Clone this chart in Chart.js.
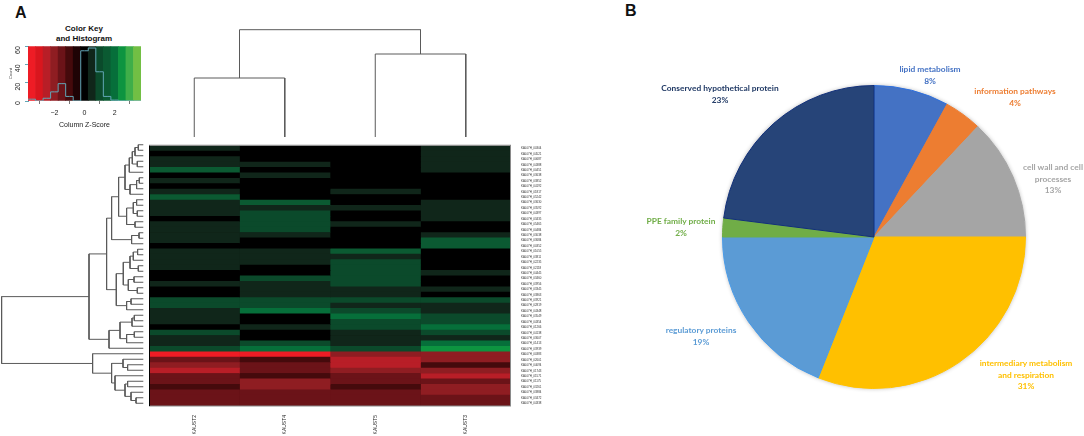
<!DOCTYPE html>
<html lang="en">
<head>
    <meta charset="UTF-8">
    <title>Heatmap and functional categories</title>
    <script src="https://cdn.jsdelivr.net/npm/chart.js"></script>
    <style>
        html, body { margin: 0; padding: 0; background: #fff; overflow: hidden; }
        body { position: relative; width: 1084px; height: 436px; }
        canvas { position: absolute; }
        .panel { position: absolute; font: bold 16px 'Liberation Sans', Arial, sans-serif; color: #111; }
        .key-title { position: absolute; left: 34px; top: 24px; width: 100px; text-align: center;
            font: bold 8px/10px 'Liberation Sans', Arial, sans-serif; color: #111; z-index: 0; }
        .pie-label { position: absolute; transform: translateX(-50%); text-align: center; white-space: nowrap;
            font: bold 8.4px/11.6px Lato, 'Open Sans', sans-serif; }
    </style>
</head>
<body>
    <div class="panel" style="left:15px;top:4px">A</div>
    <div class="panel" style="left:625px;top:2px">B</div>
    <div class="key-title">Color Key<br>and Histogram</div>

    <canvas id="key" width="150" height="94" style="left:0;top:35px"></canvas>
    <canvas id="top-tree" width="362" height="112" style="left:149px;top:25px"></canvas>
    <canvas id="row-tree" width="146" height="264" style="left:0;top:142px"></canvas>
    <canvas id="heat" width="402" height="294" style="left:149px;top:142px"></canvas>
    <canvas id="pie" width="316" height="316" style="left:716px;top:79px"></canvas>

    <script>
        // Colour key: one colour per 0.5 wide z-score bin, -3.5 to 3.5
        const keyBins = [-3.5, -3, -2.5, -2, -1.5, -1, -0.5, 0, 0.5, 1, 1.5, 2, 2.5, 3, 3.5];
        const keyCounts = [2, 0, 3, 10, 19, 5, 0, 55, 58, 32, 5, 1, 0, 0, 0];
        const keyColors = ['#ee1c25', '#d9161e', '#b81e27', '#8f1d22', '#6b1318', '#450a0c', '#1f0305', '#000000',
            '#10261a', '#0b4a2b', '#0b5a32', '#066f3a', '#0d9440', '#3fae49', '#72bf44'];

        // Heatmap z-scores, top row first
        const columns = ['KAUST2', 'KAUST4', 'KAUST5', 'KAUST3'];
        const kaust2 = [.5, 0, .5, .5, 1.5, 0, .5, 0, .5, 1.5, .5, .5, .5, 0, .5, .5, .5, .5, 0, .5, .5, .5, .5, 0,
            0, .5, 0, 0, 1, 1, .5, .5, .5, 0, 1, .5, .5, 1, -3.5, -1.5, -2, -2.5, -1.5, -1.5, -1, -1.5, -1.5, -1.5];
        const kaust4 = [0, 0, 0, .5, 0, .5, 0, 0, 0, 0, 1.5, .5, 1, 1, 1, 1, .5, 0, 0, .5, .5, .5, 0, 0,
            1, .5, .5, .5, 1, 1, 2, 0, 0, .5, 0, 0, 1, 2, -3.5, -1, -1.5, -1.5, -1, -2, -2, -1.5, -1.5, -1.5];
        const kaust5 = [0, 0, 0, 0, 0, 0, 0, 0, .5, 0, 0, .5, 0, 0, .5, 0, 0, 0, 0, 1.5, .5, 1, 1, 1,
            1, 1, .5, .5, 1, .5, 1, 2, 1, 1, .5, .5, .5, 1, -2, -2.5, -2.5, -2, -1.5, -1.5, -1, -1.5, -1.5, -1.5];
        const kaust3 = [.5, .5, .5, .5, .5, 0, 0, 0, 0, 0, .5, .5, .5, .5, 0, 0, .5, 1.5, 1.5, 0, 0, 0, 0, .5,
            0, 0, .5, 0, 1, .5, .5, 1, 1, 2, 1, .5, 2, 2.5, -2, -2, -1, -2, -2.5, -1.5, -2, -2, -1.5, -1.5];
        const rowLabels = ['KAL07H_00304', 'KAL07H_04521', 'KAL07H_00687', 'KAL07H_04388', 'KAL07H_00451', 'KAL07H_03638',
            'KAL07H_03852', 'KAL07H_04192', 'KAL07H_01817', 'KAL07H_05242', 'KAL07H_03630', 'KAL07H_03592',
            'KAL07H_04397', 'KAL07H_03435', 'KAL07H_05465', 'KAL07H_00484', 'KAL07H_03038', 'KAL07H_03684',
            'KAL07H_00352', 'KAL07H_01055', 'KAL07H_03811', 'KAL07H_02235', 'KAL07H_02118', 'KAL07H_04445',
            'KAL07H_03460', 'KAL07H_03956', 'KAL07H_03345', 'KAL07H_03863', 'KAL07H_03921', 'KAL07H_02819',
            'KAL07H_04348', 'KAL07H_03549', 'KAL07H_04354', 'KAL07H_01266', 'KAL07H_04138', 'KAL07H_03607',
            'KAL07H_01413', 'KAL07H_03939', 'KAL07H_00383', 'KAL07H_02601', 'KAL07H_04094', 'KAL07H_01743',
            'KAL07H_01571', 'KAL07H_01175', 'KAL07H_03261', 'KAL07H_03884', 'KAL07H_03472', 'KAL07H_04338'];

        // Dendrograms: [height, left child, right child]; a number child is a row index
        const rowsTop = [24.7,
            [18.3, [14, [11, [8.3, [5, 0, 1], 2], [6, 3, 4]], 5], [13.3, [6.7, [4, 6, 7], 8], 9]],
            [16.7, [10, [6.7, 10, 11], [6, 12, 13]], [8.3, 14, 15]]];
        const rowsMiddle = [27,
            [20, [13.3, [10, [5.7, 19, 20], 21], [5, 22, 23]], [15, [9.3, 24, 25], [6, 26, 27]]],
            [16.7, [12.3, 28, 29], 30]];
        const rowsLower = [34.3, [23.3, [11.3, [9, 31, 32], 33], [16.7, [9, 34, 35], 36]], 37];
        const rowsRed = [50.7, 38, [31.7, [20.3, 39, [15.7, 40, 41]],
            [28.3, 42, [18.3, [15.7, 43, 44], [12.3, 45, [7.3, 46, 47]]]]]];
        const rowTree = [141.7, [54.3, [36.7, [31.7, rowsTop, [11.7, [4.3, 16, 17], 18]], rowsMiddle], rowsLower], rowsRed];
        const colTree = [107.3, [59, 0, 1], [83, 2, 3]];

        // Pie slices, clockwise from 12 o'clock
        const pieNames = ['lipid metabolism', 'information pathways', 'cell wall and cell\nprocesses',
            'intermediary metabolism\nand respiration', 'regulatory proteins', 'PPE family protein', 'Conserved hypothetical protein'];
        const pieValues = [8, 4, 13, 31, 19, 2, 23];
        const pieColors = ['#4472c4', '#ed7d31', '#a5a5a5', '#ffc000', '#5b9bd5', '#70ad47', '#264478'];
        const pieEdges = ['#2f6fdc', '#ed7d31', '#a5a5a5', '#ffc000', '#4a9be8', '#70ad47', '#12307a'];
        const pieTextColors = ['#4472c4', '#ed7d31', '#a5a5a5', '#ffc000', '#5b9bd5', '#70ad47', '#1f3864'];
        const pieTextAt = [[930, 64], [1015, 86], [1053, 162], [1026, 358], [701, 325], [681, 216], [720, 83]];

        Chart.defaults.animation = false;
        Chart.defaults.responsive = false;
        Chart.defaults.font.family = "'Liberation Sans', Arial, sans-serif";
        Chart.defaults.plugins.legend.display = false;
        Chart.defaults.plugins.tooltip.enabled = false;

        function zColor(z) {
            return keyColors[keyBins.indexOf(z)];
        }

        // walks a tree, pushes its lines and returns the node's leaf-axis position
        function treeLines(node, out, toPoint, leafPos) {
            if (typeof node === 'number') return { pos: leafPos(node), h: 0 };
            const a = treeLines(node[1], out, toPoint, leafPos);
            const b = treeLines(node[2], out, toPoint, leafPos);
            out.push(toPoint(a.pos, a.h), toPoint(a.pos, node[0]), toPoint(b.pos, node[0]), toPoint(b.pos, b.h), { x: NaN, y: NaN });
            return { pos: (a.pos + b.pos) / 2, h: node[0] };
        }

        function treeChart(id, points, scales) {
            new Chart(document.getElementById(id), {
                type: 'scatter',
                data: { datasets: [{ data: points, showLine: true, pointRadius: 0, borderColor: '#5a5a5a', borderWidth: 1, spanGaps: false, clip: false }] },
                options: { layout: { padding: 0, autoPadding: false }, scales: scales }
            });
        }

        // Colour key and histogram
        new Chart(document.getElementById('key'), {
            type: 'bar',
            data: {
                datasets: [
                    {
                        type: 'scatter', order: 0, showLine: true, stepped: 'middle', pointRadius: 0,
                        borderColor: '#63a6b6', borderWidth: 1,
                        data: [{ x: -3.75, y: keyCounts[0] }].concat(keyBins.map((b, i) => ({ x: b, y: keyCounts[i] })),
                            [{ x: 3.75, y: keyCounts[keyCounts.length - 1] }])
                    },
                    {
                        order: 1, backgroundColor: keyColors, barPercentage: 1, categoryPercentage: 1,
                        data: keyBins.map(b => ({ x: b, y: 60 }))
                    }
                ]
            },
            options: {
                layout: { padding: { top: 7, right: 9 }, autoPadding: false },
                scales: {
                    x: {
                        type: 'linear', min: -3.75, max: 3.75, offset: false,
                        afterBuildTicks: s => { s.ticks = [{ value: -2 }, { value: 0 }, { value: 2 }]; },
                        afterFit: s => { s.height = 28; },
                        grid: { drawOnChartArea: false, tickLength: 3, color: '#777' },
                        border: { display: false },
                        ticks: { font: { size: 7 }, color: '#222', padding: 5, maxRotation: 0, callback: v => String(v).replace('-', '\u2212') },
                        title: { display: true, text: 'Column Z-Score', font: { size: 7 }, color: '#222', padding: { top: 2, bottom: 0 } }
                    },
                    y: {
                        min: 0, max: 60,
                        afterFit: s => { s.width = 28; },
                        grid: { drawOnChartArea: false, tickLength: 3, color: '#63a6b6' },
                        border: { color: '#63a6b6' },
                        ticks: { stepSize: 10, font: { size: 7 }, color: '#222', padding: 7, minRotation: 90, maxRotation: 90, callback: v => v % 20 === 0 ? v : '' },
                        title: { display: true, text: 'Count', font: { size: 4 }, color: '#333', padding: { top: 8, bottom: 0 } }
                    }
                }
            }
        });

        // Column dendrogram
        const colPoints = [];
        treeLines(colTree, colPoints, (p, h) => ({ x: p, y: h }), i => i + 0.5);
        treeChart('top-tree', colPoints, {
            x: { type: 'linear', min: 0, max: 4, display: false },
            y: { type: 'linear', min: 0, max: 112, display: false }
        });

        // Row dendrogram
        const rowPoints = [];
        treeLines(rowTree, rowPoints, (p, h) => ({ x: h, y: p }), i => i + 0.5);
        treeChart('row-tree', rowPoints, {
            x: { type: 'linear', min: -2.7, max: 143.3, reverse: true, display: false },
            y: { type: 'linear', min: 0, max: 48, reverse: true, display: false }
        });

        // Heatmap: one stacked bar per row, one dataset per sample
        const framePlugin = {
            id: 'frame',
            beforeDatasetsDraw(chart) {
                const a = chart.chartArea;
                chart.ctx.fillStyle = '#000';
                chart.ctx.fillRect(a.left, a.top, a.width, a.height);
            },
            afterDatasetsDraw(chart) {
                const a = chart.chartArea, ctx = chart.ctx;
                ctx.save();
                ctx.strokeStyle = '#8a8a8a';
                ctx.lineWidth = 1;
                ctx.strokeRect(a.left + 0.5, a.top - 0.5, a.width - 1, a.height + 0.5);
                ctx.strokeStyle = '#000';
                ctx.lineWidth = 2;
                ctx.beginPath();
                ctx.moveTo(a.left, a.top);
                ctx.lineTo(a.left, a.bottom);
                ctx.stroke();
                ctx.restore();
            }
        };
        new Chart(document.getElementById('heat'), {
            type: 'bar',
            plugins: [framePlugin],
            data: {
                labels: rowLabels,
                datasets: [kaust2, kaust4, kaust5, kaust3].map((col, i) => ({
                    label: columns[i],
                    data: col.map(() => 1),
                    backgroundColor: col.map(zColor),
                    barPercentage: 1,
                    categoryPercentage: 1
                }))
            },
            options: {
                indexAxis: 'y',
                layout: { padding: 0, autoPadding: false },
                scales: {
                    x: {
                        type: 'linear', stacked: true, min: 0, max: 4,
                        afterBuildTicks: s => { s.ticks = columns.map((c, i) => ({ value: i + 0.5 })); },
                        afterFit: s => { s.height = 30; },
                        grid: { display: false, drawTicks: false },
                        border: { display: false },
                        ticks: { font: { size: 5 }, color: '#222', padding: 9, minRotation: 90, maxRotation: 90, callback: v => columns[v - 0.5] }
                    },
                    y: {
                        stacked: true, position: 'right',
                        afterFit: s => { s.width = 40; },
                        grid: { display: false },
                        border: { display: false },
                        ticks: { font: { size: 2.9 }, color: '#333', padding: 2, autoSkip: false }
                    }
                }
            }
        });

        // Pie, with a soft shadow under the whole disc only
        new Chart(document.getElementById('pie'), {
            type: 'pie',
            plugins: [{
                id: 'softShadow',
                beforeDatasetsDraw(chart) {
                    const arc = chart.getDatasetMeta(0).data[0], ctx = chart.ctx;
                    ctx.save();
                    ctx.shadowColor = 'rgba(0,0,0,0.3)';
                    ctx.shadowBlur = 4;
                    ctx.fillStyle = '#fff';
                    ctx.beginPath();
                    ctx.arc(arc.x, arc.y, arc.outerRadius, 0, Math.PI * 2);
                    ctx.fill();
                    ctx.restore();
                }
            }],
            data: {
                labels: pieNames,
                datasets: [{ data: pieValues, backgroundColor: pieColors, borderColor: pieEdges, borderWidth: 1, borderJoinStyle: 'miter' }]
            },
            options: { layout: { padding: 6, autoPadding: false } }
        });

        pieNames.forEach((name, i) => {
            const div = document.createElement('div');
            div.className = 'pie-label';
            div.style.left = pieTextAt[i][0] + 'px';
            div.style.top = pieTextAt[i][1] + 'px';
            div.style.color = pieTextColors[i];
            div.innerHTML = name.replace('\n', '<br>') + '<br>' + pieValues[i] + '%';
            document.body.appendChild(div);
        });
    </script>
</body>
</html>
